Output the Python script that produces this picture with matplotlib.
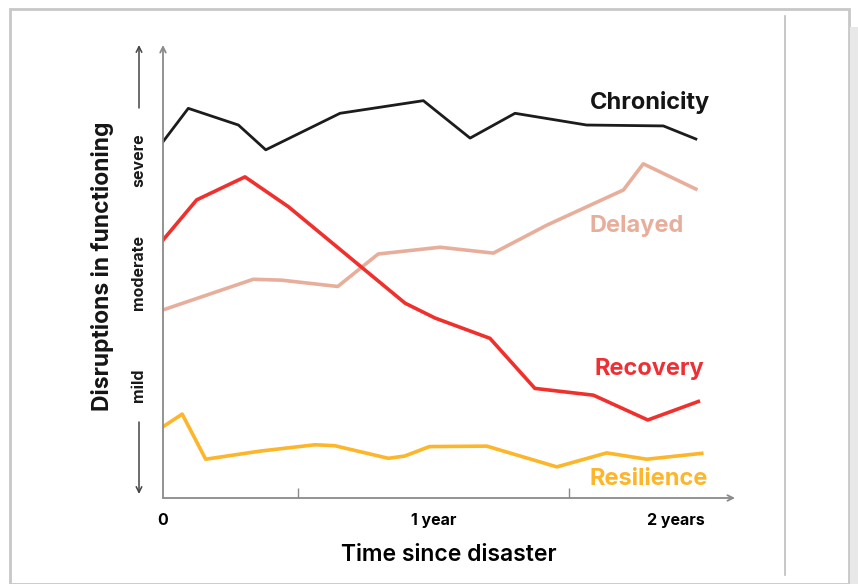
import matplotlib.pyplot as plt
from matplotlib.patches import Rectangle
from matplotlib.lines import Line2D

# Months since disaster and disruption level (0 = none, 100 = top of scale)
chron_m = [0, 1.12, 3.34, 4.55, 7.84, 11.53, 13.6, 15.59, 18.76, 22.16, 23.6]
chron_v = [79.0, 86.4, 82.7, 77.2, 85.3, 88.1, 79.8, 85.3, 82.7, 82.5, 79.6]

recov_m = [0, 1.49, 3.63, 5.55, 10.72, 12.05, 14.48, 16.47, 19.06, 21.47, 23.71]
recov_v = [57.2, 66.1, 71.2, 64.6, 43.2, 39.9, 35.4, 24.3, 22.8, 17.3, 21.4]

delay_m = [0, 4.0, 5.26, 7.74, 9.53, 12.27, 14.63, 17.0, 20.39, 21.27, 23.6]
delay_v = [41.7, 48.5, 48.3, 46.9, 54.1, 55.6, 54.3, 60.5, 68.3, 74.1, 68.5]

resil_m = [0, 0.85, 1.89, 4.3, 6.73, 7.6, 9.98, 10.7, 11.8, 14.34, 17.44, 19.65, 21.42, 23.86]
resil_v = [15.8, 18.6, 8.6, 10.4, 11.8, 11.6, 8.8, 9.3, 11.4, 11.5, 6.9, 10.0, 8.6, 9.9]

tick_pos = [0, 12, 24]
tick_labels = ["0", "1 year", "2 years"]
minor_ticks = [6, 12, 18, 24]

severity = ["severe", "moderate", "mild"]
severity_y = [75, 50, 25]

W, H = 858, 584
fig = plt.figure(figsize=(W / 100, H / 100), dpi=100)
plt.rcParams['font.family'] = ['Inter', 'DejaVu Sans']

# screenshot frame
fig.patches.append(Rectangle((10 / W, 0), (849 - 10) / W, (H - 9) / H, transform=fig.transFigure,
                             fill=False, edgecolor="#c8c8c8", lw=2))
fig.patches.append(Rectangle((850 / W, 0), 8 / W, (H - 27) / H, transform=fig.transFigure,
                             facecolor="#e8e8e8", edgecolor="none"))
fig.lines.append(Line2D([785 / W, 785 / W], [(H - 575) / H, (H - 16) / H], transform=fig.transFigure,
                        color="#bdbdbd", lw=1.2))

px = 22.58   # pixels per month
py = 4.51    # pixels per unit
x0, y0 = 163, 498
ax = fig.add_axes([x0 / W, (H - y0) / H, (735 - x0) / W, (y0 - 45) / H])
ax.set_xlim(0, (735 - x0) / px)
ax.set_ylim(0, (y0 - 45) / py)
for s in ax.spines.values():
    s.set_visible(False)
ax.patch.set_alpha(0)

axis_col = "#8a8a8a"
ax.annotate("", xy=(1, 0), xytext=(0, 0), xycoords="axes fraction",
            arrowprops=dict(arrowstyle="->", color=axis_col, lw=1.3, shrinkA=0, shrinkB=0))
ax.annotate("", xy=(0, 1), xytext=(0, 0), xycoords="axes fraction",
            arrowprops=dict(arrowstyle="->", color=axis_col, lw=1.3, shrinkA=0, shrinkB=0))

ax.set_xticks(minor_ticks, minor=True)
ax.tick_params(axis="x", which="minor", direction="in", length=7, color=axis_col, width=1)
ax.set_xticks(tick_pos)
ax.set_xticklabels(tick_labels, fontsize=11.5, fontweight="bold")
ax.tick_params(axis="x", which="major", length=0, pad=11)
ax.get_xticklabels()[-1].set_horizontalalignment("right")
ax.set_yticks([])

ax.plot(chron_m, chron_v, color="#1c1c1c", lw=2)
ax.plot(delay_m, delay_v, color="#e8ae9c", lw=2.6)
ax.plot(recov_m, recov_v, color="#f0302c", lw=2.6)
ax.plot(resil_m, resil_v, color="#fdb52a", lw=2.6)

ax.text(18.9, 87.8, "Chronicity", color="#151515", fontsize=17, fontweight="bold", va="center")
ax.text(18.9, 60.2, "Delayed", color="#e8ae9c", fontsize=17, fontweight="bold", va="center")
ax.text(19.1, 28.5, "Recovery", color="#ee3034", fontsize=17, fontweight="bold", va="center")
ax.text(18.9, 4.3, "Resilience", color="#fdb52a", fontsize=17, fontweight="bold", va="center")

ax.set_xlabel("Time since disaster", fontsize=16.5, fontweight="semibold", labelpad=11)

# left severity scale
xs = (139 - x0) / px
ax.annotate("", xy=(xs, (y0 - 45) / py), xytext=(xs, (y0 - 108) / py), annotation_clip=False,
            arrowprops=dict(arrowstyle="->", color="#444444", lw=1.1, shrinkA=0, shrinkB=0))
ax.annotate("", xy=(xs, (y0 - 494) / py), xytext=(xs, (y0 - 422) / py), annotation_clip=False,
            arrowprops=dict(arrowstyle="->", color="#444444", lw=1.1, shrinkA=0, shrinkB=0))
for lab, yv in zip(severity, severity_y):
    ax.text(xs, yv, lab, rotation=90, ha="center", va="center", fontsize=11.5,
            fontweight="bold", color="#1a1a1a", clip_on=False)

fig.text(103 / W, (H - 266) / H, "Disruptions in functioning", rotation=90, ha="center", va="center",
         fontsize=16.5, fontweight="bold", color="#151515")

fig.savefig("out.png", dpi=100)
